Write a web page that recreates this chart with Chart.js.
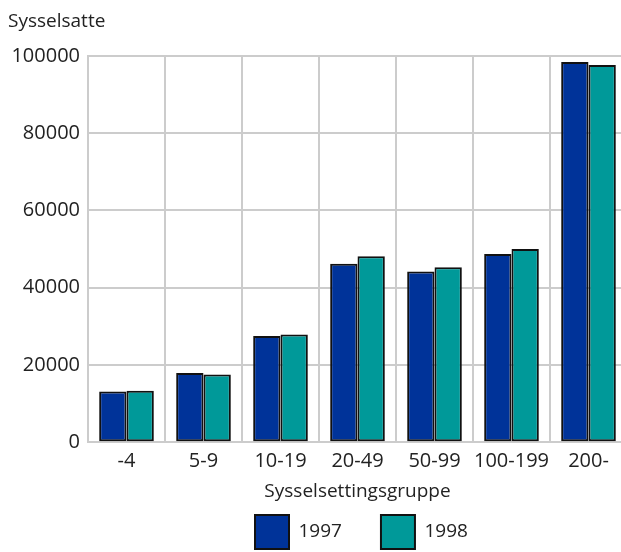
<!DOCTYPE html>
<html>
<head>
<meta charset="utf-8">
<script src="https://cdn.jsdelivr.net/npm/chart.js@4"></script>
<style>
  html, body { margin: 0; padding: 0; background: #fff; overflow: hidden; }
  #wrap { width: 628px; height: 552px; }
</style>
</head>
<body>
<div id="wrap"><canvas id="chart"></canvas></div>
<script>
(function () {
  'use strict';

  var groups = ['-4', '5-9', '10-19', '20-49', '50-99', '100-199', '200-'];
  var values1997 = [13100, 17900, 27500, 46200, 44200, 48700, 98400];
  var values1998 = [13300, 17500, 27900, 48100, 45300, 50000, 97600];
  var yTicks = [0, 20000, 40000, 60000, 80000, 100000];

  var textColor = '#222222';
  var gridColor = '#cccccc';
  var fontFamily = '"Open Sans", "Noto Sans", sans-serif';

  // legend: tight vertical padding while fitting, wide gap between items when drawing
  var legendTweak = {
    id: 'legendTweak',
    afterLayout: function (chart) {
      var lg = chart.legend;
      if (!lg) return;
      var base = lg.options;
      var gap = 39;
      var labels = Object.create(base.labels);
      Object.defineProperty(labels, 'padding', { value: gap });
      var opts = Object.create(base);
      Object.defineProperty(opts, 'labels', { value: labels });
      lg.options = opts;

      var boxTop = lg.top + 10;
      lg.top = boxTop - gap;
      lg.bottom = chart.height + 10;
      lg.height = lg.bottom - lg.top;

      var w = lg.right - lg.left;
      var sum = 2 * 255 - gap + lg.lineWidths[0];
      lg.left = (sum - w) / 2;
      lg.right = lg.left + w;
    }
  };

  var ctx = document.getElementById('chart').getContext('2d');
  var myChart = new Chart(ctx, {
    type: 'bar',
    data: {
      labels: groups,
      datasets: [{
        label: '1997',
        data: values1997,
        backgroundColor: '#003399',
        borderColor: '#111111',
        borderWidth: 2,
        borderSkipped: false
      }, {
        label: '1998',
        data: values1998,
        backgroundColor: '#009999',
        borderColor: '#111111',
        borderWidth: 2,
        borderSkipped: false
      }]
    },
    plugins: [legendTweak],
    options: {
      responsive: true,
      maintainAspectRatio: false,
      animation: false,
      layout: {
        padding: { left: 8, right: 1, top: 0, bottom: -7 }
      },
      datasets: {
        bar: {
          categoryPercentage: 0.71,
          barPercentage: 1
        }
      },
      scales: {
        x: {
          grid: {
            color: gridColor,
            lineWidth: 2,
            drawTicks: false,
            offset: true
          },
          border: { color: gridColor, width: 2 },
          ticks: {
            color: textColor,
            font: { family: fontFamily, size: 20 },
            padding: 7,
            maxRotation: 0,
            minRotation: 0,
            autoSkip: false
          },
          title: {
            display: true,
            text: 'Sysselsettingsgruppe',
            color: textColor,
            font: { family: fontFamily, size: 19 },
            padding: { top: 0, bottom: 2 }
          }
        },
        y: {
          min: 0,
          max: 100000,
          afterFit: function (scale) {
            scale.width = 80;
          },
          afterBuildTicks: function (scale) {
            scale.ticks = yTicks.map(function (v) { return { value: v }; });
          },
          grid: {
            color: gridColor,
            lineWidth: 2,
            drawTicks: false
          },
          border: { color: gridColor, width: 2 },
          ticks: {
            color: textColor,
            font: { family: fontFamily, size: 20 },
            padding: 8,
            callback: function (v) { return String(v); }
          }
        }
      },
      plugins: {
        title: {
          display: true,
          text: 'Sysselsatte',
          align: 'start',
          color: textColor,
          font: { family: fontFamily, size: 19, weight: 'normal' },
          padding: { top: 10, bottom: 23 }
        },
        legend: {
          position: 'bottom',
          labels: {
            boxWidth: 34,
            boxHeight: 34,
            padding: 10,
            color: textColor,
            font: { family: fontFamily, size: 19 }
          }
        },
        tooltip: { enabled: false }
      }
    }
  });
})();
</script>
</body>
</html>
